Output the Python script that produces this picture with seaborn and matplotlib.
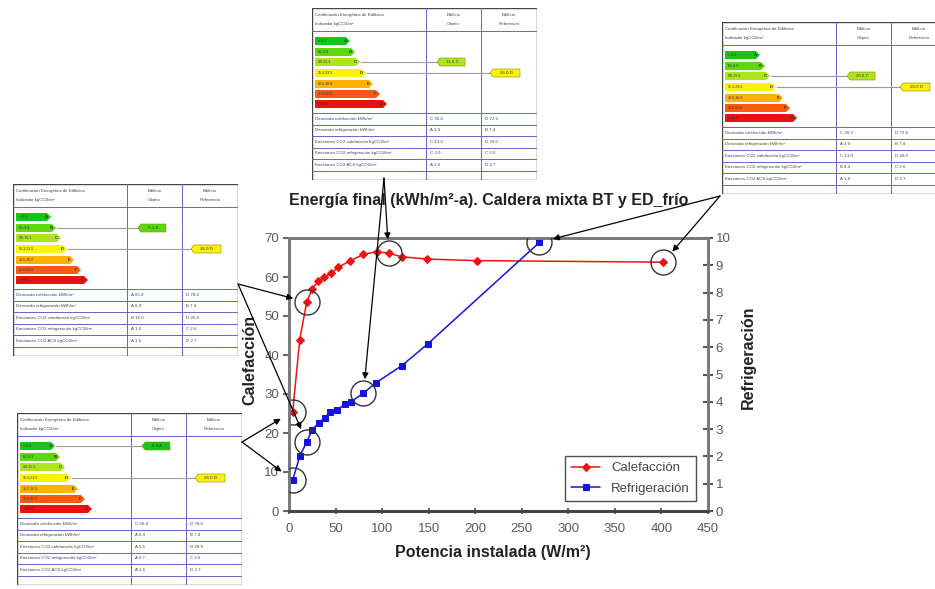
import matplotlib
matplotlib.use("Agg")
import matplotlib.pyplot as plt
from matplotlib.patches import Rectangle, Polygon, ConnectionPatch
import pandas as pd
import seaborn as sns

# ---- series: final energy vs installed power ----
cal_x = [4, 11.5, 19, 25, 31.5, 38, 45.5, 53, 66, 80, 94, 107, 121, 148, 202, 402]
cal_y = [25.5, 43.9, 53.6, 57.0, 58.9, 60.0, 61.0, 62.5, 64.2, 65.8, 66.5, 66.1, 65.2, 64.6, 64.2, 63.8]
ref_x = [4, 11.5, 19, 25, 32, 38.5, 44, 52, 60, 66.5, 80, 93.5, 121, 149, 269]
ref_y = [1.14, 2.0, 2.53, 2.98, 3.23, 3.42, 3.62, 3.7, 3.92, 4.0, 4.32, 4.7, 5.32, 6.12, 9.84]

# points highlighted with a circle (indices into the series)
cal_marked = [0, 2, 11, 15]
ref_marked = [0, 2, 10, 14]

x_ticks = list(range(0, 451, 50))
left_ticks = list(range(0, 71, 10))
right_ticks = list(range(0, 11))

title_text = "Energía final (kWh/m²-a). Caldera mixta BT y ED_frío"
xlabel_text = "Potencia instalada (W/m²)"
cal_name = "Calefacción"
ref_name = "Refrigeración"

# ---- energy certificate cards ----
class_letters = ["A", "B", "C", "D", "E", "F", "G"]
class_ranges = ["< 6.1", "6.1-9.9", "9.9-15.3", "15.3-23.5", "23.5-36.0", "36.0-50.0", "> 50.0"]
header_left = ["Certificación Energética de Edificios", "Indicador kgCO2/m²"]
header_obj = ["Edificio", "Objeto"]
header_ref = ["Edificio", "Referencia"]
row_names = ["Demanda calefacción kWh/m²", "Demanda refrigeración kWh/m²",
             "Emisiones CO2 calefacción kgCO2/m²", "Emisiones CO2 refrigeración kgCO2/m²",
             "Emisiones CO2 ACS kgCO2/m²"]
card_obj_class = [1, 2, 2, 0]
card_obj_label = ["9.1 B", "11.6 C", "20.6 C", "5.9 A"]
card_ref_class = [3, 3, 3, 3]
card_ref_label = ["26.0 D", "26.0 D", "26.0 D", "26.0 D"]
card_obj_rows = [["A 65.0", "A 6.9", "B 10.0", "A 1.6", "A 1.6"],
                 ["C 30.4", "A 3.9", "C 13.0", "C 3.0", "A 1.6"],
                 ["C 30.3", "A 3.9", "C 13.0", "B 4.4", "A 1.6"],
                 ["C 56.4", "A 6.9", "A 5.6", "A 0.7", "A 1.6"]]
card_ref_rows = [["D 78.6", "B 7.4", "D 26.0", "C 2.6", "D 2.7"],
                 ["D 72.6", "B 7.4", "D 20.0", "C 2.6", "D 2.7"],
                 ["D 72.6", "B 7.4", "D 20.0", "C 2.6", "D 2.7"],
                 ["D 78.6", "B 7.4", "D 26.0", "C 2.6", "D 2.7"]]

# which highlighted point each card points to
card_targets = [[("cal", 2), ("ref", 2)],
                [("cal", 11), ("ref", 10)],
                [("ref", 14), ("cal", 15)],
                [("cal", 0), ("ref", 0)]]

FW, FH = 935, 589
sns.set_style("white")
plt.rcParams["font.family"] = ["Liberation Sans", "DejaVu Sans"]

fig = plt.figure(figsize=(FW / 100, FH / 100), dpi=100)
fig.patch.set_facecolor("white")


def fx(px):
    return px / FW


def fy(py):
    return 1 - py / FH


# main axes
ax_l, ax_r, ax_t, ax_b = 289, 708, 238, 511
ax = fig.add_axes([fx(ax_l), fy(ax_b), (ax_r - ax_l) / FW, (ax_b - ax_t) / FH])
ax2 = ax.twinx()

cal_df = pd.DataFrame({"x": cal_x, "y": cal_y})
ref_df = pd.DataFrame({"x": ref_x, "y": ref_y})

sns.lineplot(data=cal_df, x="x", y="y", ax=ax, color="#ee1111", lw=1.1,
             marker="D", markersize=4, markeredgecolor="#ee1111", label=cal_name,
             sort=False, legend=False)
sns.lineplot(data=ref_df, x="x", y="y", ax=ax2, color="#1414dd", lw=1.1,
             marker="s", markersize=5, markeredgecolor="#1414dd", label=ref_name,
             sort=False, legend=False)

# highlight circles
ax.plot([cal_x[i] for i in cal_marked], [cal_y[i] for i in cal_marked], ls="none",
        marker="o", markersize=18, markerfacecolor="none", markeredgecolor="#333333",
        markeredgewidth=1.0, zorder=5)
ax2.plot([ref_x[i] for i in ref_marked], [ref_y[i] for i in ref_marked], ls="none",
         marker="o", markersize=18, markerfacecolor="none", markeredgecolor="#333333",
         markeredgewidth=1.0, zorder=5)

ax.set_xlim(0, 450)
ax.set_ylim(0, 70)
ax2.set_ylim(0, 10)
ax.set_xticks(x_ticks)
ax.set_yticks(left_ticks)
ax2.set_yticks(right_ticks)
ax.set_xlabel(xlabel_text, fontsize=11.5, fontweight="bold", color="#222222")
ax.set_ylabel(cal_name, fontsize=11.5, fontweight="bold", color="#222222")
ax2.set_ylabel(ref_name, fontsize=11.5, fontweight="bold", color="#222222")
ax.xaxis.set_label_coords(0.486, -0.125)
ax.yaxis.set_label_coords(-0.075, 0.553)
ax2.yaxis.set_label_coords(1.078, 0.565)

ax.tick_params(axis="y", direction="out", length=4, width=1.5, color="#666666",
               labelsize=9.5, labelcolor="#5a5a5a", pad=3, left=True)
ax.tick_params(axis="x", direction="inout", length=5, width=1.5, color="#666666",
               labelsize=9.5, labelcolor="#5a5a5a", pad=6, bottom=True)
ax2.tick_params(axis="y", direction="inout", length=7, width=1.5, color="#555555",
                labelsize=9.5, labelcolor="#5a5a5a", pad=2, right=True)

for a in (ax, ax2):
    for side, sp in a.spines.items():
        sp.set_visible(True)
        sp.set_color("#7a7a7a")
        sp.set_linewidth(2)
    a.spines["bottom"].set_color("#444444")
    a.grid(False)

ax.text(0.477, 1.139, title_text, transform=ax.transAxes, ha="center", va="center",
        fontsize=11.5, fontweight="bold", color="#222222")

h1, l1 = ax.get_legend_handles_labels()
h2, l2 = ax2.get_legend_handles_labels()
handles = [h for h in h1 if h.get_label() == cal_name] + [h for h in h2 if h.get_label() == ref_name]
leg = ax2.legend(handles=handles, labels=[cal_name, ref_name], loc="lower right",
                 bbox_to_anchor=(0.988, 0.012), fontsize=9.5, frameon=True, fancybox=False,
                 edgecolor="#222222", handlelength=2.2, borderpad=0.5, labelspacing=0.6)
leg.get_frame().set_linewidth(1.0)
for t in leg.get_texts():
    t.set_color("#444444")

# ---- certificate cards ----
card_origin = [(13, 184), (312, 8), (722, 22), (17, 413)]
card_anchor = [(225, 100), (72, 170), (-2, 174), (225, 29)]
CW, CH = 225, 172
col1, col2 = 114, 169
header_bottom = 23
bar_end = [38, 43, 48, 54, 61, 68, 75]
bar_yc = [33, 44, 54, 65, 76, 86, 96]
bar_colors = ["#19c419", "#5cd80e", "#aee41c", "#fbf10c", "#fdb100", "#fb5a0a", "#ea1111"]
row_lines = [105, 116.5, 128, 139.5, 151, 162.5]
grid_col = "#6666cc"
tiny = 3.2


def tag(cax, x0, x1, yc, color, text):
    pts = [(x0, yc), (x0 + 3, yc - 4), (x1, yc - 4), (x1, yc + 4), (x0 + 3, yc + 4)]
    cax.add_patch(Polygon(pts, closed=True, facecolor=color, edgecolor="#888800", lw=0.4, zorder=4))
    cax.text((x0 + x1) / 2 + 1, yc, text, fontsize=tiny, ha="center", va="center",
             color="#333333", zorder=5)


for i, (L, T) in enumerate(card_origin):
    cax = fig.add_axes([fx(L), fy(T + CH), CW / FW, CH / FH])
    cax.set_xlim(0, CW)
    cax.set_ylim(CH, 0)
    cax.axis("off")
    cax.add_patch(Rectangle((0, 0), CW, CH, facecolor="white", edgecolor="#444444", lw=1.0, zorder=1))
    # grid
    for xc in (col1, col2):
        cax.plot([xc, xc], [0, CH], color=grid_col, lw=0.7, zorder=2)
    for yl in [header_bottom] + row_lines:
        cax.plot([0, CW], [yl, yl], color=grid_col, lw=0.7, zorder=2)
    # header
    cax.text(3, 7, header_left[0], fontsize=tiny, va="center", color="#444444")
    cax.text(3, 16, header_left[1], fontsize=tiny, va="center", color="#444444")
    for xc, hdr in ((col1 + col2) / 2, header_obj), ((col2 + CW) / 2, header_ref):
        cax.text(xc, 7, hdr[0], fontsize=tiny, ha="center", va="center", color="#444444")
        cax.text(xc, 16, hdr[1], fontsize=tiny, ha="center", va="center", color="#444444")
    # scale bars
    for k in range(7):
        yc, xe = bar_yc[k], bar_end[k]
        pts = [(3, yc - 4), (xe - 4, yc - 4), (xe, yc), (xe - 4, yc + 4), (3, yc + 4)]
        cax.add_patch(Polygon(pts, closed=True, facecolor=bar_colors[k], edgecolor="none", zorder=3))
        cax.text(6, yc, class_ranges[k], fontsize=2.6, va="center", color="#333333", zorder=4)
        cax.text(xe - 5, yc, class_letters[k], fontsize=tiny, va="center", ha="center",
                 color="#333333", fontweight="bold", zorder=4)
    # indicator tags
    oc, rc = card_obj_class[i], card_ref_class[i]
    cax.plot([bar_end[oc] + 1, 125], [bar_yc[oc]] * 2, color="#999999", lw=0.8, zorder=2.5)
    cax.plot([bar_end[rc] + 1, 178], [bar_yc[rc]] * 2, color="#999999", lw=0.8, zorder=2.5)
    tag(cax, 125, 153, bar_yc[oc], bar_colors[oc], card_obj_label[i])
    tag(cax, 178, 208, bar_yc[rc], bar_colors[rc], card_ref_label[i])
    # rows
    for r in range(5):
        ym = (row_lines[r] + row_lines[r + 1]) / 2
        cax.text(3, ym, row_names[r], fontsize=tiny, va="center", color="#444444")
        cax.text(col1 + 4, ym, card_obj_rows[i][r], fontsize=tiny, va="center", color="#444444")
        cax.text(col2 + 4, ym, card_ref_rows[i][r], fontsize=tiny, va="center", color="#444444")

    # arrows from the card to the highlighted points
    axp, ayp = card_anchor[i]
    start = (fx(L + axp), fy(T + ayp))
    for series, idx in card_targets[i]:
        if series == "cal":
            a, xs, ys = ax, cal_x, cal_y
        else:
            a, xs, ys = ax2, ref_x, ref_y
        fig.add_artist(ConnectionPatch(
            xyA=start, coordsA=fig.transFigure, xyB=(xs[idx], ys[idx]), coordsB=a.transData,
            arrowstyle="-|>", color="black", lw=0.9, mutation_scale=9,
            shrinkA=0, shrinkB=10, zorder=10))

fig.savefig("out.png", dpi=100, facecolor="white")
